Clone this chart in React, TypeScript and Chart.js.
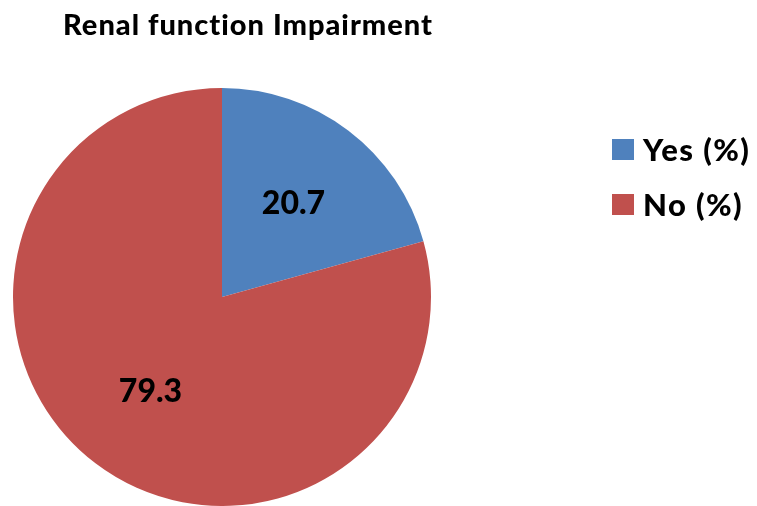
import React, { useEffect, useRef } from "react";
import { Chart, registerables } from "chart.js";

Chart.register(...registerables);

const TITLE = "Renal function Impairment";
const categories = ["Yes (%)", "No (%)"];
const values = [20.7, 79.3];
const colors = ["#4F81BD", "#C0504D"];

const FONT = "Lato, 'Open Sans', sans-serif";

const overlayPlugin = {
  id: "overlay",
  afterDraw(chart: any) {
    const ctx = chart.ctx as CanvasRenderingContext2D;
    ctx.save();
    // title
    ctx.fillStyle = "#000";
    ctx.font = `900 29px ${FONT}`;
    (ctx as any).letterSpacing = "1px";
    ctx.textAlign = "left";
    ctx.textBaseline = "alphabetic";
    ctx.fillText(TITLE, 63, 35);

    // data labels
    (ctx as any).letterSpacing = "0px";
    ctx.textAlign = "center";
    const meta = chart.getDatasetMeta(0);
    ctx.font = `900 32px ${FONT}`;
    ctx.textBaseline = "middle";
    meta.data.forEach((arc: any, i: number) => {
      const p = arc.getProps(["x", "y", "startAngle", "endAngle", "outerRadius"], true);
      const mid = (p.startAngle + p.endAngle) / 2;
      const r = p.outerRadius * 0.565;
      ctx.fillText(String(values[i]), p.x + Math.cos(mid) * r, p.y + Math.sin(mid) * r + 1);
    });

    // legend
    ctx.textAlign = "left";
    ctx.font = `900 31px ${FONT}`;
    (ctx as any).letterSpacing = "1.4px";
    categories.forEach((c, i) => {
      const y = 149.5 + i * 55;
      ctx.fillStyle = colors[i];
      ctx.fillRect(612, y - 10.5, 22, 21);
      ctx.fillStyle = "#000";
      ctx.fillText(c, 643, y + 1);
    });
    ctx.restore();
  },
};

export default function App() {
  const ref = useRef<HTMLCanvasElement>(null);
  useEffect(() => {
    if (!ref.current) return;
    const chart = new Chart(ref.current, {
      type: "pie",
      data: {
        labels: categories,
        datasets: [
          {
            data: values,
            backgroundColor: colors,
            borderWidth: 0,
          },
        ],
      },
      options: {
        responsive: false,
        animation: false,
        layout: { padding: { left: 13, top: 88, right: 326, bottom: 0 } },
        plugins: {
          legend: { display: false },
          title: { display: false },
          tooltip: { enabled: false },
        },
      },
      plugins: [overlayPlugin],
    });
    return () => chart.destroy();
  }, []);
  return (
    <div style={{ position: "fixed", left: 0, top: 0, width: 757, height: 506, background: "#fff" }}>
      <canvas ref={ref} width={757} height={506} />
    </div>
  );
}
